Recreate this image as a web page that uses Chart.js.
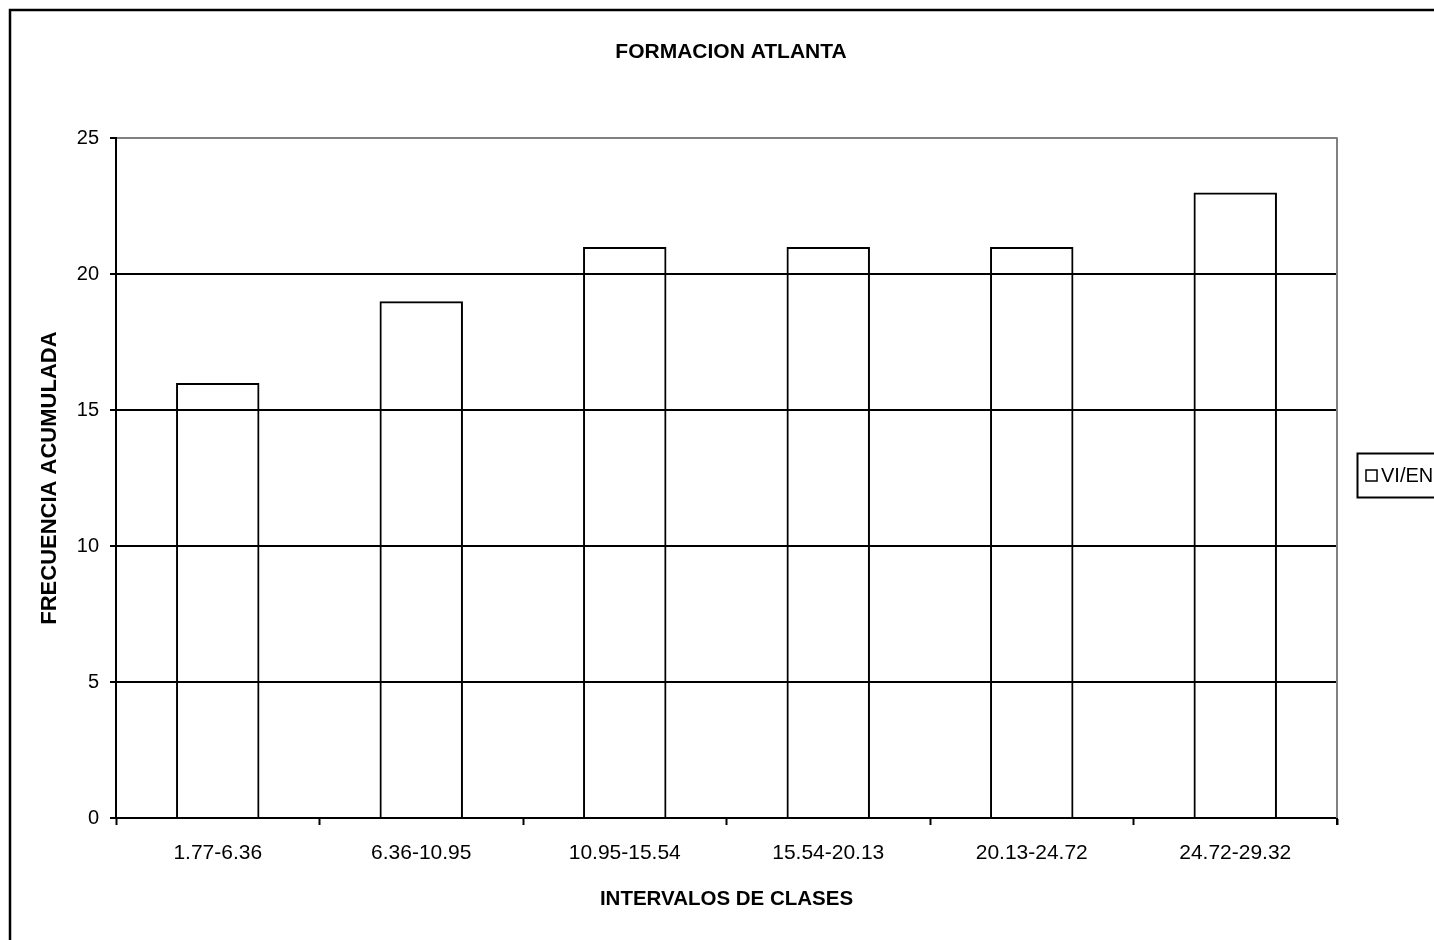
<!DOCTYPE html>
<html>
<head>
<meta charset="utf-8">
<script src="https://cdn.jsdelivr.net/npm/chart.js@4.4.1/dist/chart.umd.min.js"></script>
<style>
  html, body { margin: 0; padding: 0; background: #fff; }
  canvas { display: block; }
</style>
</head>
<body>
<canvas id="c" width="1434" height="940"></canvas>
<script>
const categories = ['1.77-6.36', '6.36-10.95', '10.95-15.54', '15.54-20.13', '20.13-24.72', '24.72-29.32'];
const frecuencia = [16, 19, 21, 21, 21, 23];
const seriesLabel = 'VI/EN';
const chartTitle = 'FORMACION ATLANTA';
const xTitle = 'INTERVALOS DE CLASES';
const yTitle = 'FRECUENCIA ACUMULADA';
const yMin = 0, yMax = 25, yStep = 5;

const FONT = '"Liberation Sans", Arial, Helvetica, sans-serif';
Chart.defaults.color = '#000';
Chart.defaults.font.family = FONT;

const decor = {
  id: 'decor',
  afterDraw(chart) {
    const ctx = chart.ctx;
    const a = chart.chartArea;
    ctx.save();
    // outer frame
    ctx.strokeStyle = '#000';
    ctx.lineWidth = 2.5;
    ctx.strokeRect(10, 10, 1600, 1100);
    // right plot border (gray)
    ctx.strokeStyle = '#808080';
    ctx.lineWidth = 2;
    ctx.beginPath();
    ctx.moveTo(a.right, a.top - 1);
    ctx.lineTo(a.right, a.bottom);
    ctx.stroke();
    // black tick at right end of x axis
    ctx.strokeStyle = '#000';
    ctx.beginPath();
    ctx.moveTo(a.right, a.bottom);
    ctx.lineTo(a.right, a.bottom + 7);
    ctx.stroke();
    // legend
    const lx = 1357, ly = 453, lh = 44;
    ctx.lineWidth = 2;
    ctx.strokeStyle = '#000';
    ctx.strokeRect(lx + 0.5, ly + 0.5, 300, lh);
    ctx.lineWidth = 1.5;
    ctx.strokeRect(1366, ly + lh / 2 - 5, 11, 11);
    ctx.fillStyle = '#000';
    ctx.font = '20px ' + FONT;
    ctx.textBaseline = 'middle';
    ctx.textAlign = 'left';
    ctx.fillText(chart.data.datasets[0].label, 1381, ly + lh / 2 + 1);
    ctx.restore();
  }
};

new Chart(document.getElementById('c'), {
  type: 'bar',
  data: {
    labels: categories,
    datasets: [{
      label: seriesLabel,
      data: frecuencia,
      backgroundColor: 'rgba(255,255,255,0)',
      borderColor: '#000',
      borderWidth: 2,
      barPercentage: 0.41,
      categoryPercentage: 1.0
    }]
  },
  options: {
    responsive: false,
    animation: false,
    layout: { padding: { left: 28, top: 0, right: 0, bottom: 0 } },
    plugins: {
      legend: { display: false },
      tooltip: { enabled: false },
      title: {
        display: true,
        text: chartTitle,
        color: '#000',
        font: { size: 21, weight: 'bold', family: FONT },
        padding: { top: 40, bottom: 73 }
      }
    },
    scales: {
      x: {
        afterFit(scale) { scale.height = 122; },
        grid: {
          offset: true,
          drawOnChartArea: false,
          drawTicks: true,
          tickLength: 7,
          tickColor: '#000',
          tickWidth: 2
        },
        border: { display: true, color: '#000', width: 2 },
        ticks: {
          color: '#000',
          font: { size: 21, family: FONT },
          padding: 16,
          maxRotation: 0,
          autoSkip: false
        },
        title: {
          display: true,
          text: xTitle,
          color: '#000',
          font: { size: 20.5, weight: 'bold', family: FONT },
          padding: { top: 0, bottom: 28 }
        }
      },
      y: {
        min: yMin,
        max: yMax,
        afterFit(scale) { scale.width = 88; },
        grid: {
          color: (c) => (c.tick && c.tick.value === yMax) ? '#808080' : '#000',
          lineWidth: 2,
          drawTicks: true,
          tickLength: 6,
          tickColor: '#000',
          tickWidth: 2
        },
        border: { display: true, color: '#000', width: 2 },
        ticks: {
          stepSize: yStep,
          color: '#000',
          font: { size: 20, family: FONT },
          padding: 11
        },
        title: {
          display: true,
          text: yTitle,
          color: '#000',
          font: { size: 22, weight: 'bold', family: FONT },
          padding: { top: 9, bottom: 0 }
        }
      },
      yRight: {
        position: 'right',
        display: true,
        min: yMin,
        max: yMax,
        afterFit(scale) { scale.width = 97; },
        grid: { drawOnChartArea: false, drawTicks: false },
        border: { display: false },
        ticks: { display: false }
      }
    }
  },
  plugins: [decor]
});
</script>
</body>
</html>
